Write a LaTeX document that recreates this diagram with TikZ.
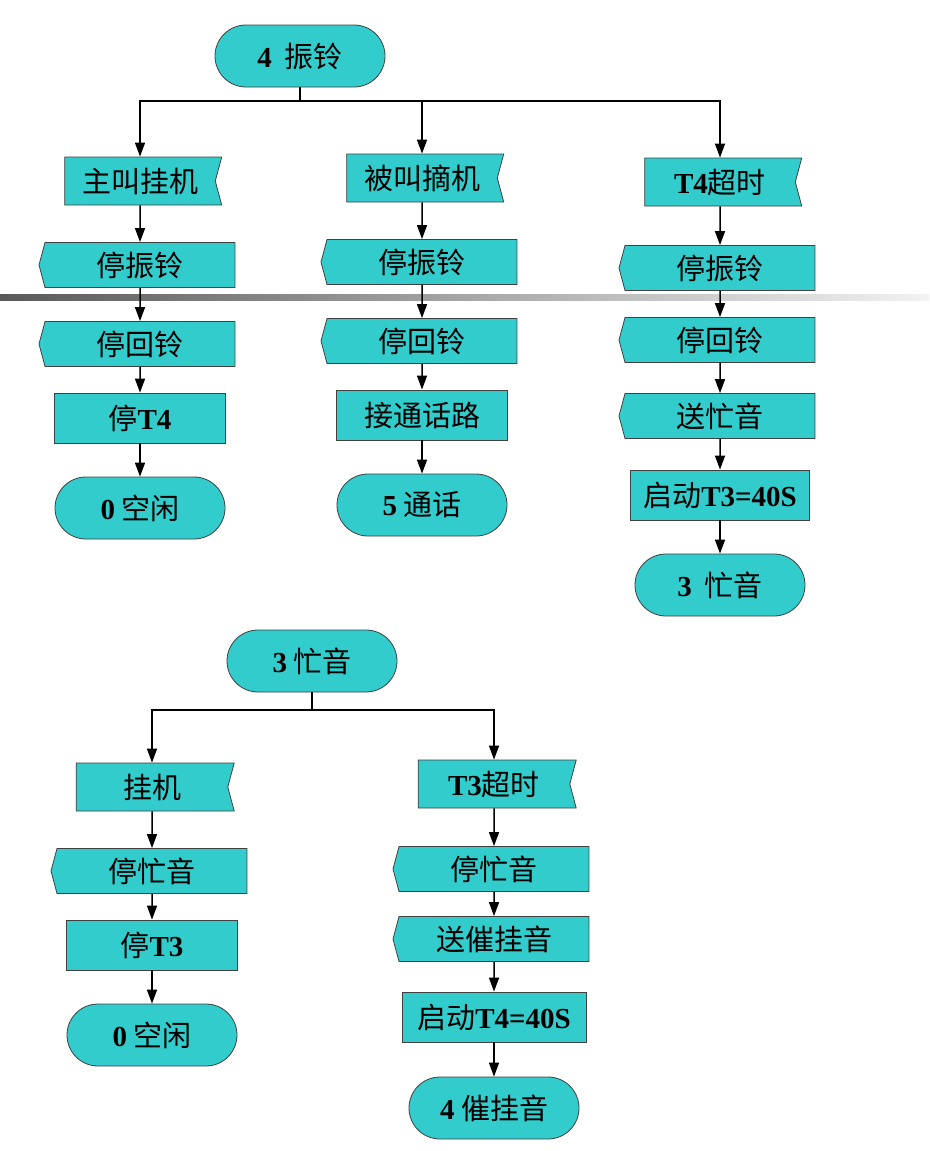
\documentclass[tikz,border=0pt]{standalone}
\usepackage{fontspec}
\setmainfont{Liberation Serif}
\newfontfamily\cjk{Noto Sans CJK SC}
\usetikzlibrary{arrows.meta}
\usetikzlibrary{shapes.misc}
\usetikzlibrary{shapes.symbols}
\definecolor{boxcyan}{RGB}{51,204,204}
\newcommand{\en}[1]{{\rmfamily\bfseries #1}}

\tikzset{
  base/.style={draw=black!75, fill=boxcyan, line width=0.8pt, inner sep=0pt,
    font=\fontsize{29}{32}\selectfont\cjk},
  term/.style={base, rounded rectangle, minimum width=170pt, minimum height=62pt},
  insig/.style={base, signal, signal to=nowhere, signal from=east,
    signal pointer angle=150, minimum width=157pt, minimum height=48pt},
  outsig/.style={base, signal, signal to=west, signal from=nowhere,
    signal pointer angle=150, minimum width=196pt, minimum height=45pt},
  act/.style={base, rectangle, minimum width=171pt, minimum height=50pt},
  flow/.style={line width=1.5pt, -{Triangle[width=10pt,length=14pt]}},
  link/.style={line width=1.5pt},
}

\begin{document}
\begin{tikzpicture}[x=1pt, y=-1pt]
  \useasboundingbox (0,0) rectangle (929,1151);

  % grey rule across the page
  \fill[left color=black!65, right color=black!5] (0,294) rectangle (929,300);

  % 4 ringing
  \node[term] (ring) at (300,56) {\en{4}\ \ 振铃};
  \coordinate (rj) at (300,101);

  % calling party on-hook
  \node[insig] (callon) at (140,181) {主叫挂机};
  \node[outsig] (stopa) at (140,265) {停振铃};
  \node[outsig] (stopb) at (140,344) {停回铃};
  \node[act] (stopt) at (140,418) {停\en{T4}};
  \node[term] (idlea) at (140,508) {\en{0} 空闲};

  % called party off-hook
  \node[insig] (calloff) at (422,178) {被叫摘机};
  \node[outsig] (stopc) at (422,262) {停振铃};
  \node[outsig] (stopd) at (422,341) {停回铃};
  \node[act] (conn) at (422,415) {接通话路};
  \node[term] (talk) at (422,505) {\en{5} 通话};

  % T4 timeout
  \node[insig] (tfour) at (720,182) {\en{T4}超时};
  \node[outsig] (stope) at (720,268) {停振铃};
  \node[outsig] (stopf) at (720,340) {停回铃};
  \node[outsig] (busy) at (720,416) {送忙音};
  \node[act, minimum width=179pt] (startb) at (720,495) {启动\en{T3=40S}};
  \node[term] (busya) at (720,585) {\en{3}\ \ 忙音};

  \draw[link] (ring) -- (rj);
  \draw[flow] (rj) -| (callon);
  \draw[flow] (rj) -| (calloff);
  \draw[flow] (rj) -| (tfour);
  \draw[flow] (callon) -- (stopa);
  \draw[flow] (stopa) -- (stopb);
  \draw[flow] (stopb) -- (stopt);
  \draw[flow] (stopt) -- (idlea);
  \draw[flow] (calloff) -- (stopc);
  \draw[flow] (stopc) -- (stopd);
  \draw[flow] (stopd) -- (conn);
  \draw[flow] (conn) -- (talk);
  \draw[flow] (tfour) -- (stope);
  \draw[flow] (stope) -- (stopf);
  \draw[flow] (stopf) -- (busy);
  \draw[flow] (busy) -- (startb);
  \draw[flow] (startb) -- (busya);

  % 3 busy tone
  \node[term] (busyb) at (312,661) {\en{3} 忙音};
  \coordinate (bj) at (312,710);

  \node[insig, minimum width=158pt] (hang) at (152,787) {挂机};
  \node[outsig] (stopg) at (152,871) {停忙音};
  \node[act] (stoptt) at (152,945) {停\en{T3}};
  \node[term] (idleb) at (152,1035) {\en{0} 空闲};

  \node[insig, minimum width=158pt] (tthree) at (494,784) {\en{T3}超时};
  \node[outsig] (stoph) at (494,869) {停忙音};
  \node[outsig] (howl) at (494,939) {送催挂音};
  \node[act, minimum width=184pt] (startc) at (494,1017) {启动\en{T4=40S}};
  \node[term] (howla) at (494,1108) {\en{4} 催挂音};

  \draw[link] (busyb) -- (bj);
  \draw[flow] (bj) -| (hang);
  \draw[flow] (bj) -| (tthree);
  \draw[flow] (hang) -- (stopg);
  \draw[flow] (stopg) -- (stoptt);
  \draw[flow] (stoptt) -- (idleb);
  \draw[flow] (tthree) -- (stoph);
  \draw[flow] (stoph) -- (howl);
  \draw[flow] (howl) -- (startc);
  \draw[flow] (startc) -- (howla);
\end{tikzpicture}
\end{document}
